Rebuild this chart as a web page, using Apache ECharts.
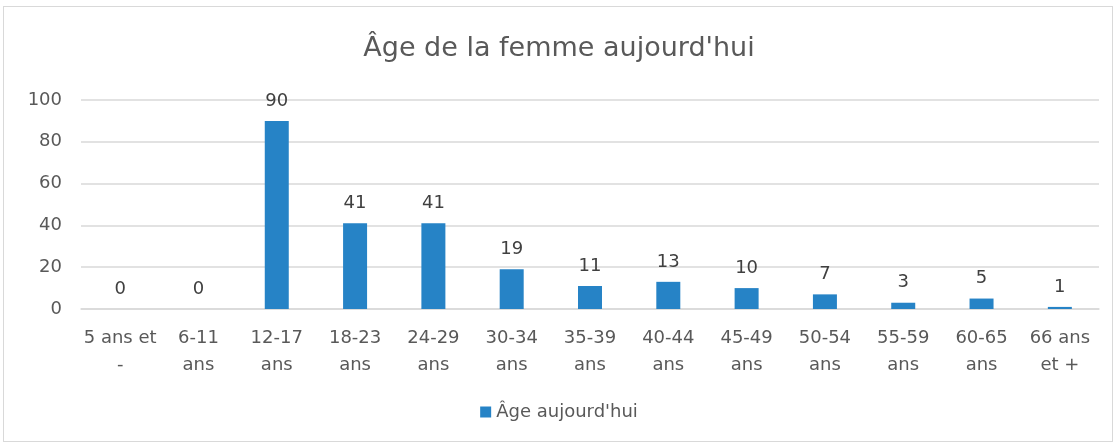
<!DOCTYPE html>
<html lang="fr">
<head>
<meta charset="utf-8">
<script src="https://cdn.jsdelivr.net/npm/echarts@6/dist/echarts.min.js"></script>
<title>Âge de la femme</title>
<style>
  html, body { margin: 0; padding: 0; background: #fff; }
  #box { position: absolute; left: 3px; top: 6px; width: 1110px; height: 436px; border: 1px solid #d9d9d9; box-sizing: border-box; }
  #main { position: absolute; left: 0; top: 0; width: 1118px; height: 446px; }
</style>
</head>
<body>
<div id="box"></div>
<div id="main"></div>
<script>
// données
var categories = ['5 ans et\n-', '6-11\nans', '12-17\nans', '18-23\nans', '24-29\nans', '30-34\nans',
  '35-39\nans', '40-44\nans', '45-49\nans', '50-54\nans', '55-59\nans', '60-65\nans', '66 ans\net +'];
var values = [0, 0, 90, 41, 41, 19, 11, 13, 10, 7, 3, 5, 1];
var seriesName = "Âge aujourd'hui";
var titleText = "Âge de la femme aujourd'hui";

var chart = echarts.init(document.getElementById('main'));
var font = '"DejaVu Sans", sans-serif';
chart.setOption({
  animation: false,
  textStyle: { fontFamily: font },
  title: {
    text: titleText,
    left: 'center',
    top: 30,
    textStyle: { color: '#595959', fontSize: 27, fontWeight: 'normal', fontFamily: font }
  },
  legend: {
    bottom: 20,
    left: 'center',
    itemWidth: 11,
    itemHeight: 11,
    itemGap: 4,
    icon: 'rect',
    textStyle: { color: '#595959', fontSize: 18 },
    data: [seriesName]
  },
  grid: { left: 81, right: 19, top: 100, bottom: 137, containLabel: false },
  xAxis: {
    type: 'category',
    data: categories,
    axisLine: { lineStyle: { color: '#d9d9d9', width: 1.5 } },
    axisTick: { show: false },
    axisLabel: { color: '#595959', fontSize: 18, lineHeight: 27, margin: 16, interval: 0 }
  },
  yAxis: {
    type: 'value',
    min: 0,
    max: 100,
    interval: 20,
    axisLine: { show: false },
    axisTick: { show: false },
    splitLine: { lineStyle: { color: '#d9d9d9', width: 1.5 } },
    axisLabel: { color: '#595959', fontSize: 18, margin: 19 }
  },
  series: [{
    name: seriesName,
    type: 'bar',
    data: values,
    barWidth: 24,
    itemStyle: { color: '#2683c6' },
    label: { show: true, position: 'top', distance: 11, color: '#404040', fontSize: 18 }
  }]
});
</script>
</body>
</html>
